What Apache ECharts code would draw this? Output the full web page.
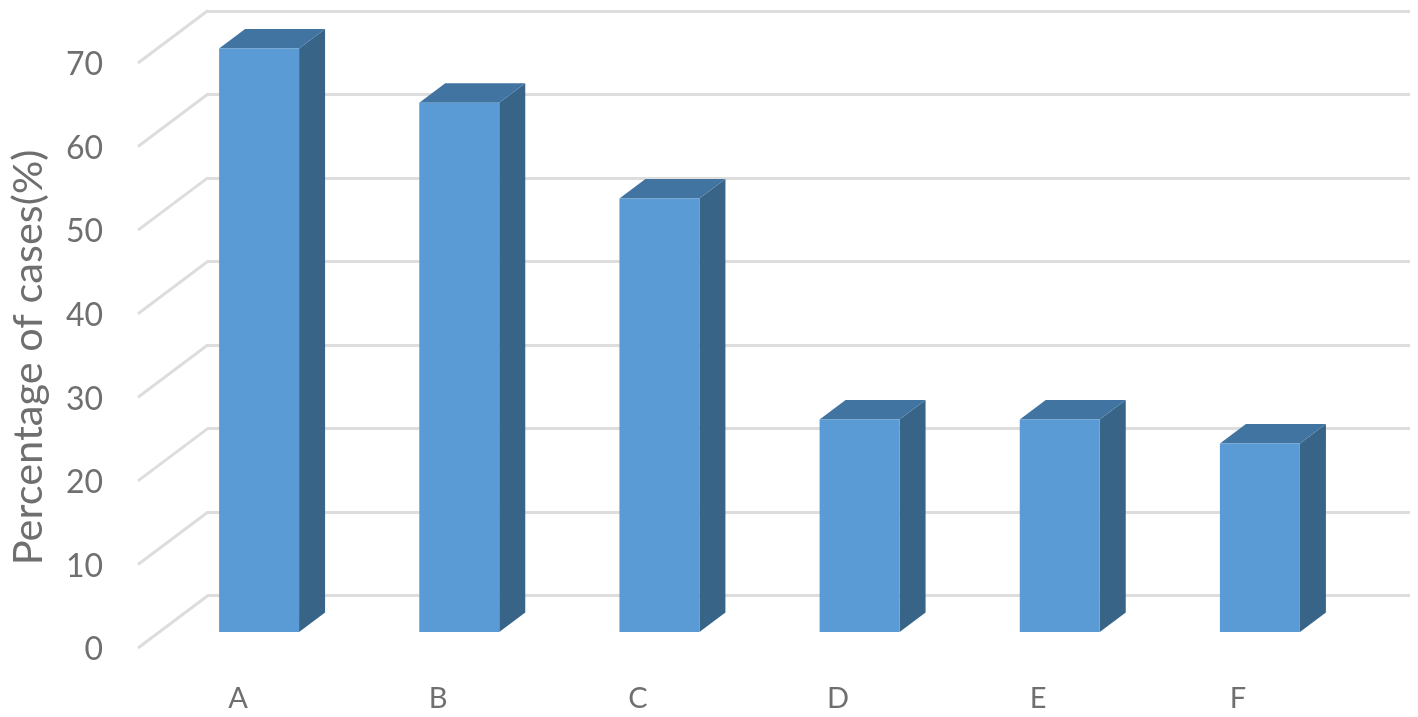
<!DOCTYPE html>
<html>
<head>
<meta charset="utf-8">
<style>
html,body{margin:0;padding:0;background:#fff}
#c{width:1418px;height:717px;filter:blur(0.6px)}
</style>
<script src="https://cdn.jsdelivr.net/npm/echarts@6/dist/echarts.min.js"></script>
</head>
<body>
<div id="c"></div>
<script>
const categories = ['A', 'B', 'C', 'D', 'E', 'F'];
const caseValues = [70, 63.5, 52, 25.5, 25.5, 22.6];
const yTicks = [0, 10, 20, 30, 40, 50, 60, 70];
const yTitle = 'Percentage of cases(%)';

const chart = echarts.init(document.getElementById('c'), null, {renderer: 'canvas'});
const font = 'Lato, Carlito, "Open Sans", sans-serif';
const textColor = '#6f6f6f';
const gridColor = '#dddddd';
const wallDx = 70, wallDy = -52.5;   // floor depth of the chart box
const labelDrop = 2;                 // tick labels sit slightly below the floor edge
const barDx = 26, barDy = -19.5;     // depth of each column
const barWidth = 80;

function renderColumn(params, api) {
  const x = api.coord([api.value(0), 0])[0];
  const yTop = api.coord([api.value(0), api.value(1)])[1];
  const yBase = api.coord([api.value(0), 0])[1];
  const l = x - barWidth / 2, r = x + barWidth / 2;
  return {type: 'group', children: [
    {type: 'polygon', shape: {points: [[r, yTop], [r + barDx, yTop + barDy], [r + barDx, yBase + barDy], [r, yBase]]},
     style: {fill: '#386488'}},
    {type: 'polygon', shape: {points: [[l, yTop], [l + barDx, yTop + barDy], [r + barDx, yTop + barDy], [r, yTop]]},
     style: {fill: '#4274a1'}},
    {type: 'rect', shape: {x: l, y: yTop, width: barWidth, height: yBase - yTop},
     style: {fill: '#5b9bd5'}}
  ]};
}

function renderDiagonal(params, api) {
  const p = api.coord([0, api.value(0)]);
  const x = params.coordSys.x;
  const y = p[1] - labelDrop;
  return {type: 'line', shape: {x1: x, y1: y, x2: x + wallDx, y2: y + wallDy},
    style: {stroke: gridColor, lineWidth: 3}};
}

chart.setOption({
  animation: false,
  backgroundColor: '#fff',
  grid: [
    {left: 207, top: 11, width: 1203, height: 584.5},   // back wall
    {left: 137, top: 65, width: 1201, height: 585},     // front plane: labels
    {left: 159, top: 48.5, width: 1201, height: 583.5}  // columns
  ],
  xAxis: [
    {gridIndex: 0, type: 'category', data: categories, show: false},
    {gridIndex: 1, type: 'category', data: categories,
     axisLine: {show: false}, axisTick: {show: false},
     axisLabel: {color: textColor, fontFamily: font, fontSize: 29, margin: 34}},
    {gridIndex: 2, type: 'category', data: categories, show: false}
  ],
  yAxis: [
    {gridIndex: 0, type: 'value', min: 0, max: 70, interval: 10,
     axisLine: {show: false}, axisTick: {show: false}, axisLabel: {show: false},
     splitLine: {show: true, lineStyle: {color: gridColor, width: 3}}},
    {gridIndex: 1, type: 'value', min: 0, max: 70, interval: 10,
     axisLine: {show: false}, axisTick: {show: false}, splitLine: {show: false},
     axisLabel: {color: textColor, fontFamily: font, fontSize: 32, margin: 35},
     name: yTitle, nameLocation: 'middle', nameRotate: 90, nameGap: 88,
     nameTextStyle: {color: textColor, fontFamily: font, fontSize: 41.5}},
    {gridIndex: 2, type: 'value', min: 0, max: 70, interval: 10, show: false}
  ],
  series: [
    {type: 'custom', xAxisIndex: 1, yAxisIndex: 1, silent: true, clip: false,
     data: yTicks.map(v => [v]), encode: {y: 0}, renderItem: renderDiagonal, z: 1},
    {type: 'custom', xAxisIndex: 2, yAxisIndex: 2, silent: true, clip: false,
     data: caseValues.map((v, i) => [i, v]), encode: {x: 0, y: 1}, renderItem: renderColumn, z: 3}
  ]
});
</script>
</body>
</html>
